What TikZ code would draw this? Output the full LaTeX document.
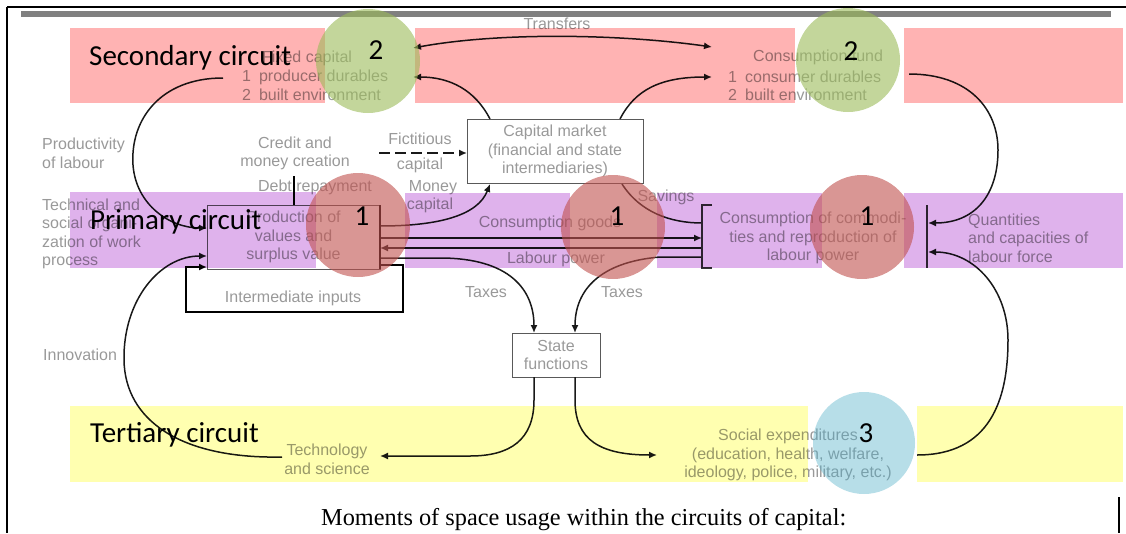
\documentclass[tikz,border=0pt]{standalone}
\usepackage{fontspec}
\setmainfont{Liberation Serif}
\newfontfamily\lblfont{Carlito}
\newfontfamily\scanfont{Liberation Sans}
\usetikzlibrary{arrows.meta}
\definecolor{pinkc}{HTML}{FFB3B3}
\definecolor{purplec}{HTML}{DFB2EC}
\definecolor{yellowc}{HTML}{FFFFB0}
\definecolor{greenc}{HTML}{9BBB59}
\definecolor{redc}{HTML}{C0504D}
\definecolor{bluec}{HTML}{4BACC6}
\begin{document}
\begin{tikzpicture}[x=1pt,y=-1pt,
  scan/.style={font=\scanfont\fontsize{16}{18.5}\selectfont, text=black!40, inner sep=0pt},
  box/.style={scan, draw=black!65, line width=0.9pt},
  lbl/.style={font=\lblfont\fontsize{29}{29}\selectfont, text=black, inner sep=0pt},
  flow/.style={line width=1.5pt, draw=black!90},
  arr/.style={-{Latex[length=8pt,width=7pt]}},
  band/.style={blend mode=multiply},
  disc/.style={fill opacity=0.6}]
\useasboundingbox (0,0) rectangle (1126,533);
% frame and bar
\draw[line width=2pt] (7,7) -- (1126,7);
\draw[line width=2pt] (7,7) -- (7,533);
\draw[line width=1.5pt] (1119,497) -- (1119,533);
\fill[black!50] (21,11) rectangle (1111,17);

% ---- scanned diagram: texts
\node[scan] (transfers) at (557,24) {Transfers};
\node[scan, anchor=west] (fc1) at (262,58) {Fixed capital};
\node[scan, anchor=west] (fc2) at (242,77) {1\enspace producer durables};
\node[scan, anchor=west] (fc3) at (242,95) {2\enspace built environment};
\node[scan, anchor=west] (cf1) at (753,57) {Consumption fund};
\node[scan, anchor=west] (cf2) at (728,77) {1\enspace consumer durables};
\node[scan, anchor=west] (cf3) at (728,95) {2\enspace built environment};
\node[scan, align=left, anchor=west] (prodlab) at (42,153.5) {Productivity\\of labour};
\node[scan, align=center] (credit) at (295,153.5) {Credit and\\money creation};
\node[scan] (debt) at (315,187) {Debt repayment};
\node[scan] (fict) at (420,139) {Fictitious};
\node[scan] (fict2) at (420,165) {capital};
\node[scan] (money) at (433,188) {Money};
\node[scan] (money2) at (430,205) {capital};
\node[scan, align=left, anchor=west] (techorg) at (42,234) {Technical and\\social organi-\\zation of work\\process};
\node[scan] (cgoods) at (550,223) {Consumption goods};
\node[scan] (lpower) at (556,259) {Labour power};
\node[scan] (savings) at (666,197) {Savings};
\node[scan, align=center] (constext) at (813,238) {Consumption of commodi-\\ties and reproduction of\\labour power};
\node[scan, align=left, anchor=west] (quant) at (968,238) {Quantities\\and capacities of\\labour force};
\node[scan] (taxes1) at (486,292) {Taxes};
\node[scan] (taxes2) at (622,292) {Taxes};
\node[scan, anchor=west] (innov) at (43,355) {Innovation};
\node[scan, align=center] (techsci) at (327,459.5) {Technology\\and science};
\node[scan, align=center] (social) at (788,455) {Social expenditures\\(education, health, welfare,\\ideology, police, military, etc.)};
\node[scan] (inter) at (293,298) {Intermediate inputs};

% boxes
\node[box, minimum width=173pt, minimum height=64pt, align=center] (prodbox) at (293.5,237) {Production of\\values and\\surplus value};
\node[box, minimum width=176pt, minimum height=64pt, align=center] (capmkt) at (555,151) {Capital market\\(financial and state\\intermediaries)};
\node[box, minimum width=88pt, minimum height=44pt, align=center] (state) at (556,355) {State\\functions};

% connection points
\coordinate (fcT) at (413,48);  \coordinate (cfT) at (712,47);
\coordinate (fcB) at (413,77);  \coordinate (cfB) at (712,77);
\coordinate (cmL) at (490,119); \coordinate (cmR) at (620,119);
\coordinate (cmBL) at (490,184); \coordinate (cmBR) at (622,184);
\coordinate (fcArc) at (223,78);
\coordinate (pL1) at (207,228); \coordinate (pL2) at (207,256); \coordinate (pL3) at (207,267);
\coordinate (pR1) at (380,226); \coordinate (pR2) at (380,238); \coordinate (pR3) at (380,248);
\coordinate (pR4) at (380,258); \coordinate (pR5) at (380,265);
\coordinate (cL1) at (702,223); \coordinate (cL2) at (702,238); \coordinate (cL3) at (702,248);
\coordinate (cL4) at (702,257);
\coordinate (cR1) at (928,223); \coordinate (cR2) at (928,252);
\coordinate (crB) at (294,176); \coordinate (pTop) at (294,205);
\coordinate (fictS) at (379,153); \coordinate (cmW) at (467,153);
\coordinate (sT1) at (534,333); \coordinate (sT2) at (575,333);
\coordinate (sB1) at (534,377); \coordinate (sB2) at (575,377);
\coordinate (tsE) at (380,456); \coordinate (tsW) at (282,457);
\coordinate (seW) at (657,455); \coordinate (seE) at (917,455);
\coordinate (cfE) at (909,74);

% connectors
\draw[flow, {Latex[length=8pt,width=7pt]}-{Latex[length=8pt,width=7pt]}] (fcT) .. controls (500,32) and (620,34) .. (cfT);
\draw[flow, arr] (cmL) .. controls (475,90) and (450,77) .. (fcB);
\draw[flow, arr] (cmR) .. controls (635,90) and (660,77) .. (cfB);
\draw[flow, arr] (fcArc) .. controls (160,78) and (130,120) .. (133,165) .. controls (136,205) and (170,228) .. (pL1);
\draw[flow, arr] (tsW) .. controls (180,459) and (125,420) .. (124,360) .. controls (123,300) and (160,256) .. (pL2);
\draw[line width=1.4pt] (crB) -- (pTop);
\draw[flow, dash pattern=on 11pt off 5pt, arr] (fictS) -- (cmW);
\draw[flow, arr] (pR1) .. controls (440,226) and (478,215) .. (cmBL);
\draw[flow] (cmBR) .. controls (640,212) and (670,223) .. (cL1);
\draw[flow, arr] (pR2) -- (cL2);
\draw[flow, arr] (cL3) -- (pR3);
\draw[flow, arr] (pR4) -- (440,258) .. controls (510,258) and (534,290) .. (sT1);
\draw[flow, arr] (cL4) -- (660,257) .. controls (600,262) and (575,290) .. (sT2);
\draw[flow, arr] (sB1) -- (534,400) .. controls (534,440) and (510,456) .. (470,456) -- (tsE);
\draw[flow, arr] (sB2) -- (575,400) .. controls (575,440) and (600,455) .. (seW);
\draw[flow, arr] (seE) .. controls (990,455) and (1008,400) .. (1008,340) .. controls (1008,290) and (975,252) .. (cR2);
\draw[flow, arr] (cfE) .. controls (970,74) and (998,110) .. (998,150) .. controls (998,195) and (975,223) .. (cR1);
\draw[line width=2.4pt, arr] (pR5) -- (403,265) -- (403,312) -- (186,312) -- (186,267) -- (pL3);
\draw[line width=1.6pt] (380,205) -- (380,269);
\draw[line width=1.2pt, draw=black!80] (712,205) -- (702,205) -- (702,268) -- (712,268);
\draw[line width=1.2pt, draw=black!80] (927,205) -- (927,268);

% ---- coloured bands (multiply over the scan)
\fill[pinkc, band] (70,28) rectangle (325,103);
\fill[pinkc, band] (415,28) rectangle (795,103);
\fill[pinkc, band] (904,28) rectangle (1123,103);
\fill[purplec, band] (70,192) rectangle (316,268);
\fill[purplec, band] (405,193) rectangle (570,268);
\fill[purplec, band] (657,193) rectangle (822,268);
\fill[purplec, band] (904,193) rectangle (1123,268);
\fill[yellowc, band] (70,406) rectangle (808,482);
\fill[yellowc, band] (917,406) rectangle (1123,482);

% ---- discs
\fill[greenc, disc] (368,61) circle[radius=52];
\fill[greenc, disc] (848,60) circle[radius=52];
\fill[redc, disc] (358,225) circle[radius=52];
\fill[redc, disc] (613,227) circle[radius=52];
\fill[redc, disc] (862,227) circle[radius=52];
\fill[bluec, fill opacity=0.4] (864,443) circle[radius=51];

% ---- labels
\node[lbl, anchor=base west] (sec) at (89,65) {Secondary circuit};
\node[lbl, anchor=base west] (pri) at (90,229) {Primary circuit};
\node[lbl, anchor=base west] (ter) at (90,442) {Tertiary circuit};
\node[lbl, anchor=base] (d2a) at (376,59) {2};
\node[lbl, anchor=base] (d2b) at (851,60) {2};
\node[lbl, anchor=base] (d1a) at (362,225) {1};
\node[lbl, anchor=base] (d1b) at (617,225) {1};
\node[lbl, anchor=base] (d1c) at (867,225) {1};
\node[lbl, anchor=base] (d3) at (866,442) {3};

\node[font=\fontsize{24.3}{26}\selectfont, anchor=base west, inner sep=0pt] (caption) at (321,525) {Moments of space usage within the circuits of capital:};
\end{tikzpicture}
\end{document}
